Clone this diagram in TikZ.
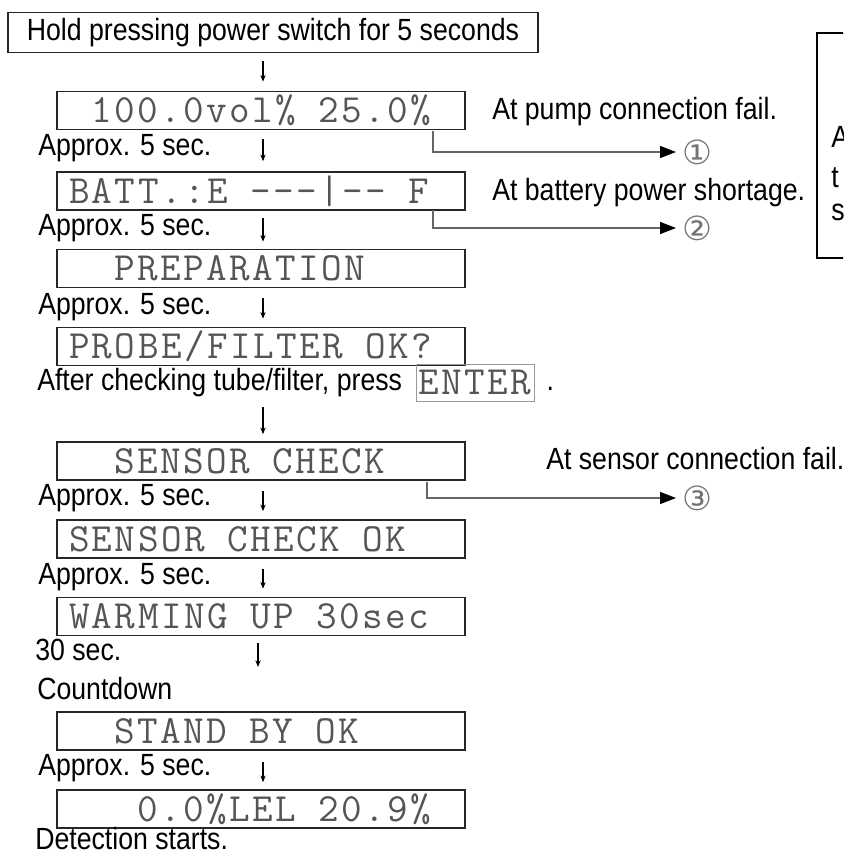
\documentclass[tikz,border=0pt]{standalone}
\usepackage{fontspec}
\setmainfont{Liberation Sans}[FakeStretch=0.87]
\newfontfamily\monofam{Latin Modern Mono}[LetterSpace=6]
\newfontfamily\symfam{DejaVu Sans}
\usetikzlibrary{positioning,arrows.meta}

\definecolor{lcdgray}{HTML}{555555}
\newcommand{\notetxt}{\fontsize{23}{25}\selectfont}
\newcommand{\lcdtxt}{\monofam\fontsize{30}{31}\selectfont\spaceskip=17pt\relax}
\newcommand{\circtxt}{\symfam\fontsize{25}{26}\selectfont}

\tikzstyle{startbox} = [rectangle, minimum width=397.5pt, minimum height=30pt, inner sep=0pt,
text centered, draw=black!85, line width=1pt, font=\notetxt]
\tikzstyle{lcd} = [rectangle, minimum width=306pt, minimum height=28.5pt, inner xsep=9pt,
inner ysep=0pt, text width=288pt, align=flush left, draw=black!85, line width=1.3pt, font=\lcdtxt,
text=lcdgray]
\tikzstyle{keycap} = [rectangle, minimum height=27.75pt, inner xsep=2pt, inner ysep=0pt,
draw=black!40, line width=0.6pt, font=\lcdtxt, text=lcdgray]
\tikzstyle{note} = [inner sep=0pt, anchor=west, text height=16pt, text depth=4.5pt, font=\notetxt]
\tikzstyle{circnum} = [inner xsep=5pt, inner ysep=0pt, anchor=west, font=\circtxt, text=black!55]
\tikzstyle{arrow} = [line width=0.8pt, -{Stealth[length=5pt, width=4pt]}]
\tikzstyle{branch} = [line width=1.1pt, draw=black!60, -{Triangle[length=12pt, width=9pt, black]}]

\begin{document}
\begin{tikzpicture}[x=0.75pt, y=-0.75pt, node distance=58.5pt]
              \useasboundingbox (0,0) rectangle (843,856);
              \clip (0,0) rectangle (843,856);
              \coordinate (ax) at (263,0);
              \coordinate (ax2) at (258,0);

              \node (start) [startbox] at (273,32.5) {Hold pressing power switch for 5 seconds};
              \node (lcd1) [lcd, below of=start, xshift=-9pt] {~100.0vol\% 25.0\%};
              \node (lcd2) [lcd, below of=lcd1, yshift=-1.9pt] {BATT.:E ---|-- F};
              \node (lcd3) [lcd, below of=lcd2, yshift=0.4pt] {~~PREPARATION};
              \node (lcd4) [lcd, below of=lcd3] {PROBE/FILTER OK?};
              \node (lcd5) [lcd, below of=lcd4, yshift=-27.4pt] {~~SENSOR CHECK};
              \node (lcd6) [lcd, below of=lcd5] {SENSOR CHECK OK};
              \node (lcd7) [lcd, below of=lcd6, yshift=0.4pt] {WARMING UP 30sec};
              \node (lcd8) [lcd, below of=lcd7, yshift=-27.4pt] {~~STAND BY OK};
              \node (lcd9) [lcd, below of=lcd8] {~~~0.0\%LEL 20.9\%};

              % timing notes on the left
              \node (wait1) [note] at (38,148) {Approx. 5 sec.};
              \node (wait2) [note] at (38,228) {Approx. 5 sec.};
              \node (wait3) [note] at (38,307) {Approx. 5 sec.};
              \node (after) [note] at (37,383) {After checking tube/filter, press};
              \node (enter) [keycap, right=10pt of after] {ENTER};
              \node (dot) [note, right=9pt of enter] {.};
              \node (wait4) [note] at (38,498) {Approx. 5 sec.};
              \node (wait5) [note] at (38,577) {Approx. 5 sec.};
              \node (sec30) [note] at (35,653) {30 sec.};
              \node (count) [note] at (37,692) {Countdown};
              \node (wait6) [note] at (38,768) {Approx. 5 sec.};
              \node (detect) [note] at (35,842) {Detection starts.};

              % failure cases on the right
              \node (fail1) [note] at (492,112) {At pump connection fail.};
              \node (fail2) [note] at (492,193) {At battery power shortage.};
              \node (fail3) [note] at (546,462) {At sensor connection fail.};
              \node (c1) [circnum] at (676,152) {①};
              \node (c2) [circnum] at (676,228) {②};
              \node (c3) [circnum] at (676,498) {③};
              \coordinate (br1) at (433,131);
              \coordinate (br2) at (433,210);
              \coordinate (br3) at (427,482);

              % side box, cut off at the edge
              \draw [line width=1.4pt] (817,33) rectangle (900,258);
              \node (sideA) [note] at (831,140) {A};
              \node (sidet) [note] at (831,180) {t};
              \node (sides) [note] at (831,213) {s};

              \draw [arrow] ([yshift=-6pt]start.south -| ax) -- ([yshift=6.75pt]lcd1.north -| ax);
              \draw [arrow] ([yshift=-6.75pt]lcd1.south -| ax) -- ([yshift=7.5pt]lcd2.north -| ax);
              \draw [arrow] ([yshift=-5.25pt]lcd2.south -| ax) -- ([yshift=5.25pt]lcd3.north -| ax);
              \draw [arrow] ([yshift=-7.5pt]lcd3.south -| ax) -- ([yshift=6pt]lcd4.north -| ax);
              \draw [arrow] ([yshift=-3.75pt]enter.south -| ax) -- ([yshift=5.25pt]lcd5.north -| ax);
              \draw [arrow] ([yshift=-7.5pt]lcd5.south -| ax) -- ([yshift=6pt]lcd6.north -| ax);
              \draw [arrow] ([yshift=-7.5pt]lcd6.south -| ax) -- ([yshift=6pt]lcd7.north -| ax);
              \draw [arrow] ([yshift=-5.25pt]lcd7.south -| ax2) -- (sec30.south -| ax2);
              \draw [arrow] ([yshift=-8.25pt]lcd8.south -| ax) -- ([yshift=5.25pt]lcd9.north -| ax);

              \draw [branch] (br1) |- (c1.west);
              \draw [branch] (br2) |- (c2.west);
              \draw [branch] (br3) |- (c3.west);
            \end{tikzpicture}
\end{document}
